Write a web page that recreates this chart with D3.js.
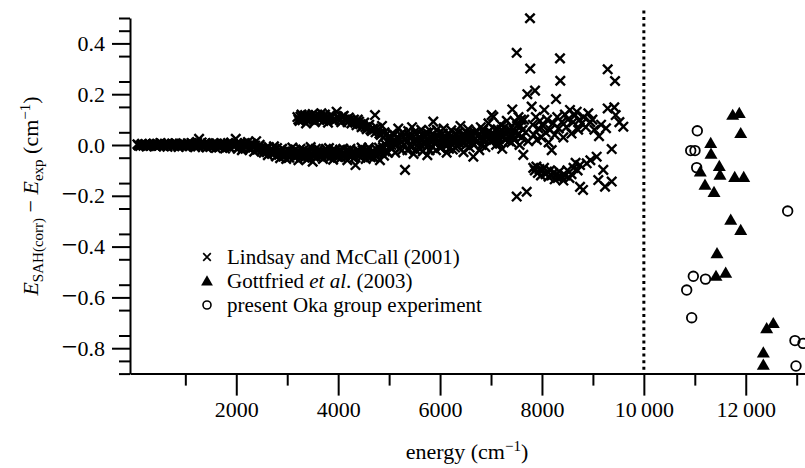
<!DOCTYPE html>
<html>
<head>
<meta charset="utf-8">
<script src="https://cdn.jsdelivr.net/npm/d3@7"></script>
<style>
body{margin:0;background:#fff}
text{font-family:"Liberation Serif","Times New Roman",serif;fill:#000}
</style>
</head>
<body>
<svg id="chart" width="805" height="468"></svg>
<script>
// tick labels
var xTicks = [2000, 4000, 6000, 8000, 10000, 12000];
var xMinor = [1000, 3000, 5000, 7000, 9000, 11000, 13000];
var yTicks = [-0.8, -0.6, -0.4, -0.2, 0.0, 0.2, 0.4];

// Lindsay and McCall (2001): [energy, difference]
var lindsay = [
 [60,0.003],[110,-0.004],[150,0.005],[200,0.001],[240,-0.006],[290,0.004],[330,-0.002],[380,0.006],[420,-0.005],[470,0.002],
 [510,0.008],[560,-0.003],[600,0.004],[650,-0.007],[690,0.001],[740,0.006],[780,-0.004],[830,0.003],[870,-0.008],[920,0.005],
 [960,0.0],[1010,-0.006],[1050,0.007],[1100,-0.002],[1140,0.004],[1190,-0.009],[1230,0.012],[1270,0.024],[1300,0.003],[1340,-0.005],
 [1380,0.006],[1420,-0.01],[1470,0.002],[1510,-0.004],[1550,0.008],[1600,-0.012],[1640,0.0],[1690,-0.006],[1730,0.005],[1780,-0.014],
 [1820,0.003],[1860,-0.008],[1900,0.01],[1940,-0.003],[1990,0.024],[2030,-0.015],[2070,0.006],[2110,-0.02],[2150,0.0],[2190,-0.008],
 [2230,0.012],[2270,-0.018],[2310,0.002],[2350,-0.026],[2390,0.015],[2420,-0.01],[2460,0.001],[2500,-0.022],
 [80,-0.002],[130,0.0],[175,-0.003],[220,0.004],[265,0.0],[310,-0.004],[355,0.002],[400,0.0],[445,0.005],[490,-0.003],
 [535,0.001],[580,-0.006],[625,0.003],[670,0.006],[715,-0.002],[760,0.0],[805,0.007],[850,-0.003],[895,0.001],[940,-0.005],
 [985,0.004],[1030,0.0],[1075,-0.004],[1120,0.008],[1165,0.0],[1210,0.004],[1250,-0.006],[1320,0.01],[1360,0.0],[1400,-0.004],
 [1445,0.007],[1490,-0.008],[1530,0.002],[1575,-0.003],[1620,0.006],[1665,-0.01],[1710,0.0],[1755,0.004],[1800,-0.005],[1840,0.008],
 [1880,-0.012],[1920,0.002],[1965,-0.006],[2010,0.006],[2050,-0.008],[2090,0.003],[2130,-0.012],[2170,0.008],[2210,-0.004],[2250,-0.012],
 [2290,0.006],[2330,-0.01],[2370,-0.002],[2405,-0.018],[2440,-0.006],[2480,-0.012],[2520,-0.018],
 [2540,-0.03],[2580,-0.012],[2620,-0.04],[2660,-0.02],[2700,-0.035],[2740,-0.005],[2780,-0.045],[2820,-0.025],[2860,-0.052],[2900,-0.015],
 [2940,-0.038],[2980,-0.055],[3020,-0.02],[3060,-0.04],[3100,-0.01],[3140,-0.048],[3180,-0.028],[3220,-0.06],[3260,-0.015],[3300,-0.035],
 [3340,-0.05],[3380,-0.022],[3420,-0.042],[3460,-0.008],[3500,-0.066],[3540,-0.03],[3580,-0.048],[3620,-0.018],[3660,-0.038],[3700,-0.055],
 [3740,-0.025],[3780,-0.045],[3820,-0.012],[3860,-0.035],[3900,-0.058],[3940,-0.02],[3980,-0.04],[4020,-0.028],[4060,-0.05],[4100,-0.015],
 [4140,-0.038],[4180,-0.06],[4220,-0.025],[4260,-0.045],[4300,-0.032],[4340,-0.079],[4380,-0.02],[4420,-0.042],[4460,-0.01],[4500,-0.035],
 [4540,-0.055],[4580,-0.022],[4620,-0.04],[4660,-0.03],[4700,-0.05],[4740,-0.015],[4780,-0.035],[4820,-0.06],[4860,-0.02],[4900,-0.042],
 [4940,0.0],[4980,-0.03],
 [2560,-0.022],[2600,-0.028],[2640,-0.008],[2680,-0.03],[2720,-0.02],[2760,-0.03],[2800,-0.012],[2840,-0.038],[2880,-0.03],[2920,-0.045],
 [2960,-0.025],[3000,-0.035],[3040,-0.05],[3080,-0.028],[3120,-0.035],[3160,-0.018],[3200,-0.04],[3240,-0.03],[3280,-0.048],[3320,-0.02],
 [3360,-0.03],[3400,-0.055],[3440,-0.025],[3480,-0.035],[3520,-0.045],[3560,-0.015],[3600,-0.035],[3640,-0.028],[3680,-0.045],[3720,-0.035],
 [3760,-0.015],[3800,-0.03],[3840,-0.05],[3880,-0.022],[3920,-0.038],[3960,-0.03],[4000,-0.048],[4040,-0.018],[4080,-0.035],[4120,-0.045],
 [4160,-0.022],[4200,-0.04],[4240,-0.015],[4280,-0.028],[4320,-0.05],[4360,-0.035],[4400,-0.025],[4440,-0.05],[4480,-0.02],[4520,-0.03],
 [4560,-0.04],[4600,-0.01],[4640,-0.048],[4680,-0.022],[4720,-0.035],[4760,-0.045],[4800,-0.01],[4840,-0.03],[4880,-0.008],[4920,-0.025],[4960,0.015],
 [3200,0.11],[3240,0.095],[3280,0.12],[3330,0.105],[3370,0.085],[3410,0.118],[3450,0.1],[3500,0.122],[3540,0.09],[3580,0.112],
 [3630,0.1],[3670,0.125],[3710,0.095],[3760,0.11],[3800,0.088],[3850,0.118],[3900,0.1],[3970,0.131],[4010,0.105],[4060,0.09],
 [4110,0.115],[4160,0.098],[4210,0.108],[4260,0.085],[4310,0.1],[4360,0.078],[4410,0.092],[4460,0.07],[4510,0.088],[4560,0.062],
 [4610,0.08],[4660,0.055],[4723,0.118],[4760,0.068],[4810,0.045],[4860,0.075],[4910,0.05],
 [3220,0.1],[3260,0.112],[3300,0.098],[3350,0.118],[3390,0.1],[3430,0.108],[3470,0.115],[3520,0.1],[3560,0.118],[3600,0.105],
 [3650,0.112],[3690,0.108],[3740,0.12],[3780,0.1],[3830,0.105],[3880,0.112],[3930,0.095],[3990,0.112],[4035,0.098],[4085,0.112],
 [4135,0.1],[4185,0.09],[4235,0.1],[4285,0.095],[4335,0.088],[4385,0.1],[4435,0.082],[4485,0.075],[4535,0.07],[4585,0.072],
 [4635,0.06],[4690,0.065],[4735,0.05],[4785,0.058],[4835,0.04],[4885,0.03],[4935,0.04],
 [5000,0.02],[5030,-0.01],[5060,0.045],[5090,0.005],[5120,-0.03],[5150,0.03],[5180,0.065],[5210,-0.015],[5240,0.012],[5270,0.05],
 [5312,-0.098],[5330,0.025],[5360,-0.02],[5390,0.04],[5420,0.0],[5450,0.07],[5480,-0.035],[5510,0.018],[5540,0.045],[5570,-0.01],
 [5600,0.028],[5630,0.06],[5660,-0.025],[5690,0.008],[5720,0.035],[5750,-0.04],[5780,0.02],[5810,0.055],[5840,-0.005],[5867,0.092],
 [5890,0.03],[5920,-0.02],[5950,0.012],[5980,0.048],[6010,-0.012],[6040,0.025],[6070,0.065],[6100,0.0],[6130,-0.03],[6160,0.04],
 [6190,0.015],[6220,0.058],[6250,-0.018],[6280,0.022],[6310,0.045],[6340,-0.005],[6370,0.03],[6400,0.075],[6430,0.01],[6460,-0.028],
 [6490,0.038],[6520,0.018],[6550,0.062],[6580,-0.01],[6610,0.028],[6653,-0.046],[6680,0.05],[6710,0.012],[6740,0.035],[6770,-0.02],
 [6800,0.07],[6830,0.02],[6860,0.045],[6890,-0.008],[6920,0.03],[6950,0.085],[6980,0.015],[7013,0.118],[7045,0.111],[7070,0.04],
 [7100,0.0],[7130,0.062],[7160,0.025],[7190,0.08],[7220,-0.015],[7250,0.05],[7280,0.02],[7310,0.095],[7340,0.035],[7370,0.06],[7400,0.01],
 [5015,0.035],[5075,0.015],[5135,0.0],[5195,0.025],[5255,-0.02],[5345,0.01],[5405,0.03],[5465,0.015],[5525,-0.02],[5585,0.005],
 [5645,0.04],[5705,0.015],[5765,0.0],[5825,0.025],[5905,0.005],[5965,0.035],[6025,0.01],[6085,0.03],[6145,0.0],[6205,0.035],
 [6265,0.01],[6325,0.02],[6385,0.005],[6445,0.04],[6505,0.0],[6565,0.03],[6625,0.01],[6695,0.025],[6755,0.04],[6815,0.0],
 [6875,0.02],[6935,0.05],[6995,0.03],[7055,0.02],[7115,0.035],[7175,0.005],[7235,0.03],[7295,0.045],[7355,0.015],
 [5045,0.0],[5105,0.04],[5165,0.01],[5225,0.04],[5285,0.0],[5375,0.055],[5435,-0.01],[5495,0.05],[5555,0.02],[5615,-0.015],
 [5675,0.035],[5735,0.05],[5795,-0.02],[5855,0.04],[5935,0.06],[5995,-0.01],[6055,0.045],[6115,0.015],[6175,-0.015],[6235,0.02],
 [6295,-0.01],[6355,0.05],[6415,0.025],[6475,0.01],[6535,0.045],[6595,0.045],[6665,0.0],[6725,0.055],[6785,0.025],[6845,0.06],
 [6905,0.04],[6965,0.055],[7025,0.04],[7085,0.06],[7145,0.045],[7205,0.06],[7265,0.07],[7325,0.055],[7385,0.04],[7430,0.035],
 [7470,0.05],[7510,0.075],[7550,0.045],[7590,0.1],[7620,0.06],
 [7418,0.14],[7440,0.06],[7460,0.02],[7480,0.09],[7504,0.363],[7520,0.04],[7540,0.11],[7560,0.0],[7580,0.075],[7600,0.03],
 [7634,-0.039],[7650,0.1],[7680,0.05],[7713,0.2],[7730,0.015],[7765,0.499],[7770,0.301],[7798,0.151],[7820,0.08],[7840,0.04],
 [7864,0.214],[7880,0.11],[7900,0.02],[7930,0.065],[7960,0.095],[7990,0.03],[8020,0.075],[8046,0.138],[8070,0.05],[8100,0.1],
 [8130,0.01],[8160,0.06],[8191,-0.02],[8220,0.085],[8250,0.04],[8276,0.181],[8300,0.11],[8330,0.065],[8354,0.341],[8360,0.253],
 [8390,0.09],[8420,0.03],[8450,0.12],[8480,0.07],[8510,0.1],[8550,0.138],[8580,0.045],[8610,0.09],[8640,0.115],[8682,0.131],
 [8710,0.06],[8740,0.1],[8780,0.085],[8820,0.11],[8860,0.07],[8910,0.125],[8950,0.09],[8990,0.1],[9030,0.06],[9074,-0.046],
 [9120,0.035],[9160,0.08],[9257,0.066],[9290,0.298],[9290,0.144],[9369,-0.016],[9420,0.148],[9434,0.252],[9447,0.118],[9520,0.09],[9597,0.072],
 [7504,-0.203],[7700,-0.184],[7830,-0.09],[7860,-0.1],[7890,-0.085],[7920,-0.11],[7950,-0.095],[7980,-0.12],[8010,-0.1],[8040,-0.09],
 [8070,-0.115],[8100,-0.105],[8130,-0.125],[8160,-0.1],[8190,-0.12],[8220,-0.11],[8250,-0.135],[8280,-0.115],[8310,-0.13],[8340,-0.105],
 [8380,-0.125],[8420,-0.14],[8460,-0.12],[8500,-0.1],[8540,-0.13],[8580,-0.115],[8620,-0.09],[8660,-0.07],[8700,-0.1],[8747,-0.079],
 [8747,-0.165],[8806,-0.177],[8878,-0.072],[8950,-0.06],[9106,-0.138],[9204,-0.098],[9238,-0.164],[9369,-0.144]
];

// Gottfried et al. (2003)
var gottfried = [
 [11744,0.118],[11873,0.125],[11901,0.046],[11312,0.007],[11318,-0.035],[11481,-0.083],[11108,-0.105],
 [11495,-0.118],[11783,-0.127],[11960,-0.127],[11200,-0.157],[11377,-0.186],[11705,-0.295],[11901,-0.335],
 [11436,-0.427],[11416,-0.516],[11606,-0.504],[12411,-0.722],[12541,-0.702],[12345,-0.818],[12345,-0.866]
];

// present Oka group experiment
var oka = [
 [11049,0.056],[10920,-0.022],[11004,-0.022],[11037,-0.089],[12823,-0.26],[10971,-0.517],
 [11210,-0.528],[10841,-0.571],[10939,-0.68],[12966,-0.77],[13124,-0.781],[12986,-0.87]
];

var legendNames = ["Lindsay and McCall (2001)", "Gottfried ", "present Oka group experiment"];

var svg = d3.select('#chart');
var x = d3.scaleLinear().domain([-86, 13163]).range([130, 805]);
var y = d3.scaleLinear().domain([-0.9, 0.5]).range([373.6, 18]);
var serif = '"Liberation Serif", "Times New Roman", serif';

var crossPath = 'M-4.7,-4.7L4.7,4.7M-4.7,4.7L4.7,-4.7';
var triPath = 'M0,-6.4L6.5,4.8L-6.5,4.8Z';

// axes
var fmtX = function(d){ return d >= 10000 ? d3.format('d')(Math.floor(d/1000)) + '\u2009' + d3.format('03d')(d % 1000) : d3.format('d')(d); };

var gx = svg.append('g').attr('transform', 'translate(0,373.6)')
  .call(d3.axisBottom(x).tickValues(xTicks).tickSizeInner(22).tickSizeOuter(0).tickPadding(6).tickFormat(fmtX));
var gxm = svg.append('g').attr('transform', 'translate(0,373.6)')
  .call(d3.axisBottom(x).tickValues(xMinor).tickSize(12).tickFormat(''));
gxm.select('.domain').remove();

var yMinor = d3.range(-0.9, 0.501, 0.05).filter(function(v){ return Math.abs(Math.round(v*10) - v*10) > 0.1 || Math.abs(v) > 0.85 || Math.abs(v - 0.5) < 0.01; });
var gy = svg.append('g').attr('transform', 'translate(130,0)')
  .call(d3.axisLeft(y).tickValues(yTicks).tickSizeInner(18).tickSizeOuter(0).tickPadding(7).tickFormat(d3.format('.1f')));
var gym = svg.append('g').attr('transform', 'translate(130,0)')
  .call(d3.axisLeft(y).tickValues(yMinor).tickSize(11).tickFormat(''));
gym.select('.domain').remove();

[gx, gxm, gy, gym].forEach(function(g){
  g.attr('font-family', null).attr('font-size', null);
  g.selectAll('line').attr('stroke', '#000').attr('stroke-width', 2);
  g.selectAll('.domain').attr('stroke', '#000').attr('stroke-width', 2);
  g.selectAll('text').style('font-size', '22px').style('font-family', serif).attr('fill', '#000');
});

// longer minus sign on the negative y labels
gy.selectAll('.tick text').each(function(d){
  if (d >= 0) return;
  var t = d3.select(this).text('');
  t.append('tspan').style('font-size', '28px').attr('dy', '0.32em').attr('dy', null).text('\u2212');
  t.append('tspan').text(d3.format('.1f')(-d));
});

// dotted line at 10000
svg.append('line')
  .attr('x1', x(10000)).attr('x2', x(10000))
  .attr('y1', y(0.53)).attr('y2', y(-0.9))
  .attr('stroke', '#000').attr('stroke-width', 3).attr('stroke-dasharray', '3,3.6');

// points
svg.append('g').selectAll('path').data(lindsay).enter().append('path')
  .attr('d', crossPath)
  .attr('transform', function(d){ return 'translate(' + x(d[0]) + ',' + y(d[1]) + ')'; })
  .attr('stroke', '#000').attr('stroke-width', 2.4).attr('fill', 'none');

svg.append('g').selectAll('path').data(gottfried).enter().append('path')
  .attr('d', triPath)
  .attr('transform', function(d){ return 'translate(' + x(d[0]) + ',' + y(d[1]) + ')'; })
  .attr('fill', '#000');

svg.append('g').selectAll('circle').data(oka).enter().append('circle')
  .attr('cx', function(d){ return x(d[0]); })
  .attr('cy', function(d){ return y(d[1]); })
  .attr('r', 4.8)
  .attr('fill', 'none').attr('stroke', '#000').attr('stroke-width', 1.8);

// legend
var lg = svg.append('g');
var lx = 207, ly = [257, 281, 305];
lg.append('path').attr('d', 'M-3.8,-3.8L3.8,3.8M-3.8,3.8L3.8,-3.8').attr('transform', 'translate(' + lx + ',' + ly[0] + ')').attr('stroke', '#000').attr('stroke-width', 1.7);
lg.append('path').attr('d', 'M0,-5.8L5.9,4.4L-5.9,4.4Z').attr('transform', 'translate(' + lx + ',' + ly[1] + ')').attr('fill', '#000');
lg.append('circle').attr('cx', lx).attr('cy', ly[2]).attr('r', 4).attr('fill', 'none').attr('stroke', '#000').attr('stroke-width', 1.6);

lg.append('text').attr('x', 227).attr('y', ly[0] + 7).attr('font-size', '21px').text(legendNames[0]);
var t2 = lg.append('text').attr('x', 227).attr('y', ly[1] + 7).attr('font-size', '21px');
t2.append('tspan').text(legendNames[1]);
t2.append('tspan').attr('font-style', 'italic').text('et al');
t2.append('tspan').text('. (2003)');
lg.append('text').attr('x', 227).attr('y', ly[2] + 7).attr('font-size', '21px').text(legendNames[2]);

// x title
var xt = svg.append('text').attr('x', 467).attr('y', 459).attr('text-anchor', 'middle').attr('font-size', '22px');
xt.append('tspan').text('energy (cm');
xt.append('tspan').attr('dy', -8).attr('font-size', '15px').text('\u22121');
xt.append('tspan').attr('dy', 8).text(')');

// y title
var yt = svg.append('text').attr('transform', 'translate(38,196) rotate(-90)').attr('text-anchor', 'middle').attr('font-size', '22px');
yt.append('tspan').attr('font-style', 'italic').text('E');
yt.append('tspan').attr('dy', 5).attr('font-size', '15px').text('SAH(corr)');
yt.append('tspan').attr('dy', -5).text(' \u2212 ');
yt.append('tspan').attr('font-style', 'italic').text('E');
yt.append('tspan').attr('dy', 5).attr('font-size', '15px').text('exp');
yt.append('tspan').attr('dy', -5).text(' (cm');
yt.append('tspan').attr('dy', -8).attr('font-size', '15px').text('\u22121');
yt.append('tspan').attr('dy', 8).text(')');
</script>
</body>
</html>
